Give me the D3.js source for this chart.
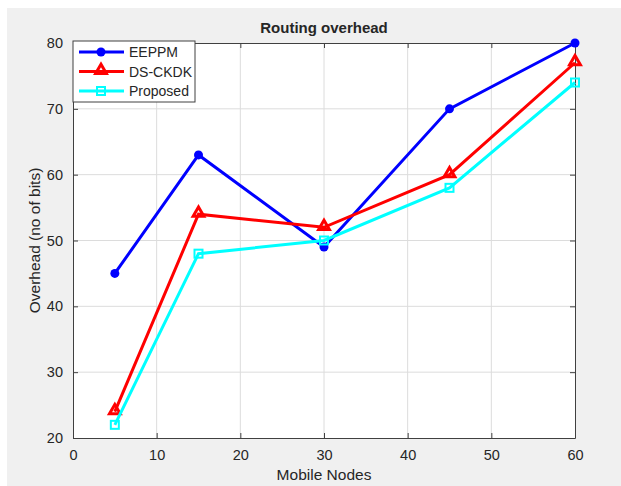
<!DOCTYPE html>
<meta charset="utf-8">
<script src="https://cdn.jsdelivr.net/npm/d3@7"></script>
<style>
body { margin: 0; background: #fff; }
text { font-family: "Liberation Sans", Arial, sans-serif; fill: #262626; }
.grid line { stroke: #dcdcdc; stroke-width: 1; }
</style>
<body>
<script>

var nodes = [5, 15, 30, 45, 60]
var eeppm = [45, 63, 49, 70, 80]
var dsckdk = [24, 54, 52, 60, 77]
var proposed = [22, 48, 50, 58, 74]
var xTicks = [0, 10, 20, 30, 40, 50, 60]
var yTicks = [20, 30, 40, 50, 60, 70, 80]

var width = 621, height = 486
var pLeft = 73, pRight = 575, pTop = 43, pBottom = 438

var svg = d3.select("body").append("svg")
            .attr("width", width)
            .attr("height", height)

svg.append("rect").attr("x", 7).attr("y", 8).attr("width", width - 7).attr("height", height - 8).attr("fill", "#f0f0f0")
svg.append("rect").attr("x", pLeft).attr("y", pTop).attr("width", pRight - pLeft).attr("height", pBottom - pTop).attr("fill", "#fff")

var x = d3.scaleLinear().domain([0, 60]).range([pLeft, pRight])
var y = d3.scaleLinear().domain([20, 80]).range([pBottom, pTop])

// grid
var grid = svg.append("g").attr("class", "grid")
grid.selectAll(".gx").data(xTicks.slice(1, -1)).enter().append("line")
    .attr("x1", d => x(d)).attr("x2", d => x(d)).attr("y1", pTop).attr("y2", pBottom)
grid.selectAll(".gy").data(yTicks.slice(1, -1)).enter().append("line")
    .attr("y1", d => y(d)).attr("y2", d => y(d)).attr("x1", pLeft).attr("x2", pRight)

// axes
function styleAxis(g) {
  g.selectAll("path").attr("stroke", "#404040").attr("stroke-width", 1)
  g.selectAll("line").attr("stroke", "#404040")
  g.selectAll("text").attr("font-size", 14.5).attr("fill", "#262626").style("font-family", "Liberation Sans, Arial, sans-serif")
}
svg.append("g").attr("transform", "translate(0," + pBottom + ")")
   .call(d3.axisBottom(x).tickValues(xTicks).tickSizeInner(-5).tickSizeOuter(0).tickPadding(12))
   .call(styleAxis)
svg.append("g").attr("transform", "translate(0," + pTop + ")")
   .call(d3.axisTop(x).tickValues(xTicks).tickSizeInner(-5).tickSizeOuter(0).tickFormat(""))
   .call(styleAxis)
svg.append("g").attr("transform", "translate(" + pLeft + ",0)")
   .call(d3.axisLeft(y).tickValues(yTicks).tickSizeInner(-5).tickSizeOuter(0).tickPadding(10))
   .call(styleAxis)
svg.append("g").attr("transform", "translate(" + pRight + ",0)")
   .call(d3.axisRight(y).tickValues(yTicks).tickSizeInner(-5).tickSizeOuter(0).tickFormat(""))
   .call(styleAxis)

// labels
svg.append("text").attr("x", (pLeft + pRight) / 2).attr("y", 33).attr("text-anchor", "middle")
   .attr("font-size", 15).attr("font-weight", "bold").attr("fill", "#000").text("Routing overhead")
svg.append("text").attr("x", (pLeft + pRight) / 2).attr("y", 480).attr("text-anchor", "middle")
   .attr("font-size", 15.5).text("Mobile Nodes")
svg.append("text").attr("transform", "translate(40," + (pTop + pBottom) / 2 + ") rotate(-90)")
   .attr("text-anchor", "middle").attr("font-size", 15.5).text("Overhead (no of bits)")

var series = [
  {name: "EEPPM", values: eeppm, color: "#0000ff", marker: "circle"},
  {name: "DS-CKDK", values: dsckdk, color: "#ff0000", marker: "triangle"},
  {name: "Proposed", values: proposed, color: "#00ffff", marker: "square"}
]

var line = d3.line().x(d => x(d[0])).y(d => y(d[1]))

function drawMarker(g, type, color, cx, cy) {
  if (type == "circle") {
    g.append("circle").attr("cx", cx).attr("cy", cy).attr("r", 4.5).attr("fill", color)
  } else if (type == "triangle") {
    g.append("path").attr("d", d3.symbol().type(d3.symbolTriangle).size(50)())
     .attr("transform", "translate(" + cx + "," + (cy - 1) + ")")
     .attr("fill", "none").attr("stroke", color).attr("stroke-width", 3)
  } else {
    g.append("rect").attr("x", cx - 4).attr("y", cy - 4).attr("width", 8).attr("height", 8)
     .attr("fill", "none").attr("stroke", color).attr("stroke-width", 2)
  }
}

series.forEach(function(s) {
  var pts = nodes.map((n, i) => [n, s.values[i]])
  svg.append("path").datum(pts).attr("d", line)
     .attr("fill", "none").attr("stroke", s.color).attr("stroke-width", 3)
  var g = svg.append("g")
  pts.forEach(p => drawMarker(g, s.marker, s.color, x(p[0]), y(p[1])))
})

// legend
var lg = svg.append("g")
lg.append("rect").attr("x", 73).attr("y", 41).attr("width", 122).attr("height", 61)
  .attr("fill", "#fff").attr("stroke", "#404040").attr("stroke-width", 1)
series.forEach(function(s, i) {
  var ly = 52 + i * 19.5
  lg.append("line").attr("x1", 79).attr("x2", 124).attr("y1", ly).attr("y2", ly)
    .attr("stroke", s.color).attr("stroke-width", 3)
  drawMarker(lg, s.marker, s.color, 101, ly)
  lg.append("text").attr("x", 129).attr("y", ly + 5).attr("font-size", 14).attr("fill", "#000").text(s.name)
})

</script>
</body>
